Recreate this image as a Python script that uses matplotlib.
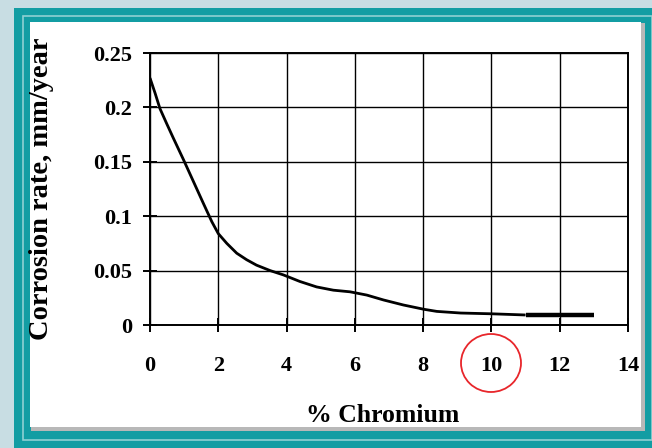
import matplotlib
matplotlib.use("Agg")
import matplotlib.pyplot as plt
import matplotlib.patches as patches

# data
chromium = [0.0, 0.15, 0.29, 0.49, 0.68, 0.98, 1.27, 1.56, 1.81, 2.0, 2.25, 2.54, 2.83,
            3.12, 3.52, 3.91, 4.39, 4.88, 5.37, 5.86, 6.35, 6.84, 7.42, 8.03, 8.4,
            9.1, 10.0, 11.0]
rate = [0.227, 0.213, 0.199, 0.185, 0.172, 0.152, 0.132, 0.112, 0.095, 0.084, 0.075,
        0.066, 0.060, 0.055, 0.050, 0.046, 0.040, 0.035, 0.032, 0.0305, 0.0275, 0.023,
        0.0184, 0.0144, 0.0125, 0.011, 0.0103, 0.0092]
chromium_flat = [11.0, 13.0]
rate_flat = [0.0092, 0.0092]

xticks = [0, 2, 4, 6, 8, 10, 12, 14]
yticks = [0, 0.05, 0.1, 0.15, 0.2, 0.25]
ytick_labels = ["0", "0.05", "0.1", "0.15", "0.2", "0.25"]

W, H = 652, 448
fig = plt.figure(figsize=(W / 100, H / 100), dpi=100)
fig.patch.set_facecolor("#c8dde3")

def px_rect(x0, y0, x1, y1, **kw):
    # rectangle in pixel coords measured from the top-left
    return patches.Rectangle((x0 / W, 1 - y1 / H), (x1 - x0) / W, (y1 - y0) / H,
                             transform=fig.transFigure, zorder=-10, **kw)

fig.patches.append(px_rect(14, 8, 652, 448, facecolor="#139da3", edgecolor="none"))
fig.patches.append(px_rect(23, 16, 652, 440, facecolor="none", edgecolor="#8fd0d3", linewidth=1.2))
fig.patches.append(px_rect(31, 23, 645, 431, facecolor="#b8b8b8", edgecolor="none"))
fig.patches.append(px_rect(30, 22, 641, 427, facecolor="white", edgecolor="none"))

ax = fig.add_axes([150 / W, 1 - 325 / H, 478 / W, 272 / H])
ax.set_facecolor("white")

ax.plot(chromium, rate, color="black", linewidth=2.0, solid_capstyle="butt",
        solid_joinstyle="round")
ax.plot(chromium_flat, rate_flat, color="black", linewidth=3.2, solid_capstyle="butt")

ax.set_xlim(0, 14)
ax.set_ylim(0, 0.25)
ax.set_xticks(xticks)
ax.set_yticks(yticks)
ax.set_yticklabels(ytick_labels)
ax.grid(True, color="black", linewidth=1.0)
ax.set_axisbelow(True)
for s in ax.spines.values():
    s.set_linewidth(1.4)
    s.set_color("black")

font = {"family": "Liberation Serif", "weight": "bold"}
ax.tick_params(axis="both", direction="inout", length=10, width=1.4, color="black")
ax.tick_params(axis="x", pad=17)
ax.tick_params(axis="y", pad=8)
for lab in ax.get_xticklabels() + ax.get_yticklabels():
    lab.set_fontfamily("Liberation Serif")
    lab.set_fontweight("bold")
    lab.set_fontsize(16)

ax.set_xlabel("% Chromium", fontsize=18.5, **font)
ax.set_ylabel("Corrosion rate, mm/year", fontsize=20.5, **font)
ax.xaxis.set_label_coords(0.487, (325 - 415) / 272)
ax.yaxis.set_label_coords((42 - 150) / 478, 0.5)
ax.xaxis.label.set_va("center")
ax.yaxis.label.set_va("center")

# red circle around the 10 % label
fig.patches.append(patches.Ellipse((491 / W, 1 - 363 / H), 60 / W, 58 / H,
                                   transform=fig.transFigure, facecolor="none",
                                   edgecolor="#e8262b", linewidth=1.3, zorder=5))

fig.savefig("out.png", dpi=100, facecolor=fig.get_facecolor())
